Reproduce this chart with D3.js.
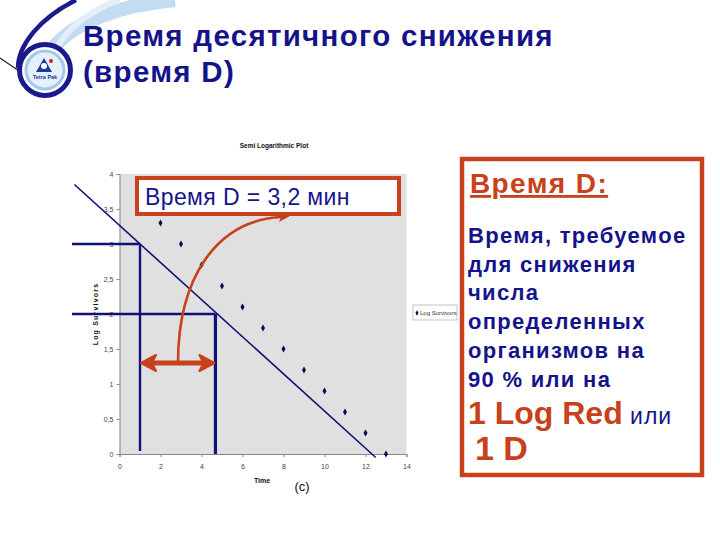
<!DOCTYPE html>
<html><head><meta charset="utf-8">
<script src="https://cdn.jsdelivr.net/npm/d3@7/dist/d3.min.js"></script>
<style>body{margin:0;background:#fff}svg{display:block}</style>
</head><body>
<svg id="c" width="720" height="540"></svg>
<script>
// ---- data ----
const times = [2,3,4,5,6,7,8,9,10,11,12,13];
const logSurvivors = [3.3,3.0,2.7,2.4,2.1,1.8,1.5,1.2,0.9,0.6,0.3,0.0];
const fitLine = [{t:-2.2, v:3.85},{t:12.5, v:-0.05}];
const dReads = [{t:1, v:3},{t:4.68, v:2}];
const xTicks = [0,2,4,6,8,10,12,14];
const yTicks = [0,0.5,1,1.5,2,2.5,3,3.5,4];
const titleLines = ["Время десятичного снижения","(время D)"];
const chartTitle = "Semi Logarithmic Plot";
const seriesName = "Log Survivors";
const xLabel = "Time";
const dLabel = "Время D = 3,2 мин";
const defLines = ["Время, требуемое","для снижения","числа","определенных","организмов на","90 % или на"];

const NAVY="#14148a", ORANGE="#c8401c", LINE="#10107a";
const svg = d3.select("#c");
const x = d3.scaleLinear().domain([0,14]).range([119.5,406.5]);
const y = d3.scaleLinear().domain([0,4]).range([454,174]);

// ---- logo ----
const logo = svg.append("g");
logo.append("path").attr("d","M175,0 C120,5 75,22 55,46").attr("fill","none").attr("stroke","#c4dcf2").attr("stroke-width",14);
logo.append("path").attr("d","M120,0 C90,10 68,28 58,46").attr("fill","none").attr("stroke","#e4eef9").attr("stroke-width",6);
logo.append("path").attr("d","M0,58 L22,73").attr("stroke","#222").attr("stroke-width",1.2);
logo.append("path").attr("d","M76,0 C40,18 18,45 18,68").attr("fill","none").attr("stroke","#1a1a8c").attr("stroke-width",4.5);
logo.append("circle").attr("cx",45).attr("cy",70).attr("r",25.5).attr("fill","#fff").attr("stroke","#1a1a8c").attr("stroke-width",5);
logo.append("circle").attr("cx",45).attr("cy",70).attr("r",19).attr("fill","#e6f0fa").attr("stroke","#a4c8ec").attr("stroke-width",3);
logo.append("path").attr("d","M44,58 L52,72 L36,72 Z").attr("fill","#1a3a9c");
logo.append("circle").attr("cx",44).attr("cy",66).attr("r",3).attr("fill","#fff");
logo.append("circle").attr("cx",51).attr("cy",61).attr("r",2).attr("fill","#d02020");
logo.append("text").attr("x",45).attr("y",79).attr("text-anchor","middle").attr("font-family","Liberation Sans, Arial").attr("font-size",5.5).attr("font-weight","bold").attr("fill","#1a3a9c").text("Tetra Pak");

// ---- main title ----
svg.append("g").selectAll("text").data(titleLines).join("text")
  .attr("x",83).attr("y",(d,i)=>46+i*36)
  .attr("font-family","Liberation Sans, Arial, sans-serif").attr("font-weight","bold")
  .attr("font-size",29.5).attr("letter-spacing",1.3).attr("fill",NAVY).text(d=>d);

// ---- chart ----
svg.append("text").attr("x",274).attr("y",148).attr("text-anchor","middle")
  .attr("font-family","Liberation Sans Narrow, Liberation Sans, Arial").attr("font-weight","bold")
  .attr("font-size",6.5).attr("fill","#111").text(chartTitle);

svg.append("rect").attr("x",x(0)).attr("y",y(4)).attr("width",x(14)-x(0)).attr("height",y(0)-y(4))
  .attr("fill","#e0e0e0");

const fmt = d => d3.format("~g")(d).replace(".",",");
const yAxis = svg.append("g").attr("transform",`translate(${x(0)},0)`)
  .call(d3.axisLeft(y).tickValues(yTicks).tickSize(3).tickFormat(fmt));
const xAxis = svg.append("g").attr("transform",`translate(0,${y(0)})`)
  .call(d3.axisBottom(x).tickValues(xTicks).tickSize(3).tickFormat(fmt));
[yAxis,xAxis].forEach(a=>{
  a.selectAll("path,line").attr("stroke","#888");
  a.selectAll("text").attr("font-family","Liberation Sans, Arial").attr("font-size",7).attr("fill","#444");
});
xAxis.selectAll("text").attr("dy","1.3em");

svg.append("text").attr("transform",`translate(98,${y(2)}) rotate(-90)`).attr("text-anchor","middle")
  .attr("font-family","Liberation Sans, Arial").attr("font-weight","bold").attr("font-size",7)
  .attr("letter-spacing",1.2).attr("fill","#111").text(seriesName);
svg.append("text").attr("x",262).attr("y",483).attr("text-anchor","middle")
  .attr("font-family","Liberation Sans Narrow, Liberation Sans, Arial").attr("font-weight","bold")
  .attr("font-size",7).attr("fill","#111").text(xLabel);
svg.append("text").attr("x",302).attr("y",491).attr("text-anchor","middle")
  .attr("font-family","Liberation Sans, Arial").attr("font-size",13).attr("fill","#111").text("(c)");

// points
const diamond = d3.symbol().type(d3.symbolDiamond).size(14);
svg.append("g").selectAll("path").data(times.map((t,i)=>({t,v:logSurvivors[i]}))).join("path")
  .attr("d",diamond).attr("transform",d=>`translate(${x(d.t)},${y(d.v)})`).attr("fill","#0a0a50");

// legend
svg.append("rect").attr("x",413).attr("y",305).attr("width",44).attr("height",15)
  .attr("fill","#fff").attr("stroke","#aaa").attr("stroke-width",0.7);
svg.append("path").attr("d",d3.symbol().type(d3.symbolDiamond).size(8)).attr("transform","translate(417,313)").attr("fill","#0a0a50");
svg.append("text").attr("x",420).attr("y",315).attr("font-family","Liberation Sans Narrow, Liberation Sans, Arial")
  .attr("font-size",6).attr("fill","#333").text(seriesName);

// fit line
svg.append("line").attr("x1",x(fitLine[0].t)).attr("y1",y(fitLine[0].v)).attr("x2",x(fitLine[1].t)).attr("y2",y(fitLine[1].v))
  .attr("stroke",LINE).attr("stroke-width",1.6);

// D reading lines
dReads.forEach((d,i)=>{
  svg.append("line").attr("x1",72).attr("x2",x(d.t)).attr("y1",y(d.v)).attr("y2",y(d.v))
    .attr("stroke",LINE).attr("stroke-width",2.4);
  svg.append("line").attr("x1",x(d.t)).attr("x2",x(d.t)).attr("y1",y(d.v)).attr("y2",i? y(0): y(0)-3)
    .attr("stroke",LINE).attr("stroke-width",i?3.2:2.4);
});

// double arrow
const ay = y(1.3), ax1 = x(dReads[0].t)+1, ax2 = x(dReads[1].t)-1;
svg.append("line").attr("x1",ax1+10).attr("x2",ax2-10).attr("y1",ay).attr("y2",ay).attr("stroke",ORANGE).attr("stroke-width",5);
svg.append("path").attr("d",`M${ax1},${ay} L${ax1+15},${ay-8} L${ax1+11},${ay} L${ax1+15},${ay+8} Z`).attr("fill",ORANGE).attr("stroke",ORANGE).attr("stroke-width",2).attr("stroke-linejoin","round");
svg.append("path").attr("d",`M${ax2},${ay} L${ax2-15},${ay-8} L${ax2-11},${ay} L${ax2-15},${ay+8} Z`).attr("fill",ORANGE).attr("stroke",ORANGE).attr("stroke-width",2).attr("stroke-linejoin","round");

// curved arrow
svg.append("path").attr("d",`M178,${ay} C178,280 215,220 282,217`).attr("fill","none").attr("stroke",ORANGE).attr("stroke-width",2.6);
svg.append("path").attr("d","M290,216 L279,211 L281,217 L279,222 Z").attr("fill",ORANGE);

// D box
svg.append("rect").attr("x",137).attr("y",178).attr("width",262).attr("height",36)
  .attr("fill","#fff").attr("stroke",ORANGE).attr("stroke-width",4);
svg.append("text").attr("x",145).attr("y",205).attr("font-family","Liberation Sans, Arial")
  .attr("font-size",23).attr("letter-spacing",0.4).attr("fill",NAVY).text(dLabel);

// right definition box
svg.append("rect").attr("x",462).attr("y",159).attr("width",240).attr("height",316)
  .attr("fill","#fff").attr("stroke",ORANGE).attr("stroke-width",4.5);
const F="Liberation Sans, Arial, sans-serif";
svg.append("text").attr("x",470).attr("y",193).attr("font-family",F).attr("font-weight","bold")
  .attr("font-size",28).attr("letter-spacing",1.4).attr("fill",ORANGE).attr("text-decoration","underline").text("Время D:");
svg.append("g").selectAll("text").data(defLines).join("text")
  .attr("x",468).attr("y",(d,i)=>243+i*28.7).attr("font-family",F).attr("font-weight","bold")
  .attr("font-size",22).attr("letter-spacing",1.3).attr("fill",NAVY).text(d=>d);
const t1 = svg.append("text").attr("x",468).attr("y",424).attr("font-family",F);
t1.append("tspan").attr("font-weight","bold").attr("font-size",32).attr("fill",ORANGE).text("1 Log Red");
t1.append("tspan").attr("font-size",23).attr("letter-spacing",1).attr("fill",NAVY).text(" или");
svg.append("text").attr("x",475).attr("y",460).attr("font-family",F).attr("font-weight","bold")
  .attr("font-size",34).attr("fill",ORANGE).text("1 D");
</script>
</body></html>
